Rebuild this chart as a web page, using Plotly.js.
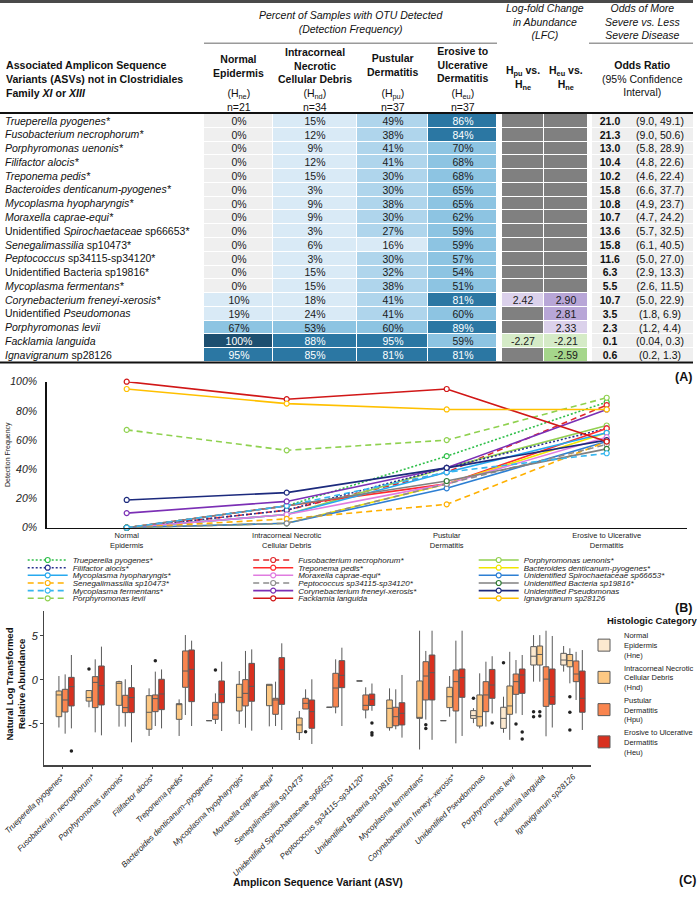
<!DOCTYPE html>
<html>
<head>
<meta charset="utf-8">
<script src="https://cdn.plot.ly/plotly-3.0.1.min.js"></script>
<style>
  html, body { margin: 0; padding: 0; background: #fff; }
  #chart { width: 697px; height: 899px; }
</style>
</head>
<body>
<div id="chart"></div>
<script>
// ---------------- data ----------------
const asvNames = [
  'Trueperella pyogenes*', 'Fusobacterium necrophorum*', 'Porphyromonas uenonis*', 'Filifactor alocis*',
  'Treponema pedis*', 'Bacteroides denticanum-pyogenes*', 'Mycoplasma hyopharyngis*', 'Moraxella caprae-equi*',
  'Unidentified Spirochaetaceae sp66653*', 'Senegalimassilia sp10473*', 'Peptococcus sp34115-sp34120*',
  'Unidentified Bacteria sp19816*', 'Mycoplasma fermentans*', 'Corynebacterium freneyi-xerosis*',
  'Unidentified Pseudomonas', 'Porphyromonas levii', 'Facklamia languida', 'Ignavigranum sp28126'
];
const tableLabels = [
  '<i>Trueperella pyogenes*</i>', '<i>Fusobacterium necrophorum*</i>', '<i>Porphyromonas uenonis*</i>',
  '<i>Filifactor alocis*</i>', '<i>Treponema pedis*</i>', '<i>Bacteroides denticanum-pyogenes*</i>',
  '<i>Mycoplasma hyopharyngis*</i>', '<i>Moraxella caprae-equi*</i>', 'Unidentified <i>Spirochaetaceae</i> sp66653*',
  '<i>Senegalimassilia</i> sp10473*', '<i>Peptococcus</i> sp34115-sp34120*', 'Unidentified Bacteria sp19816*',
  '<i>Mycoplasma fermentans*</i>', '<i>Corynebacterium freneyi-xerosis*</i>', 'Unidentified <i>Pseudomonas</i>',
  '<i>Porphyromonas levii</i>', '<i>Facklamia languida</i>', '<i>Ignavigranum</i> sp28126'
];
// detection frequency (%) per histologic category
const freqNe = [0, 0, 0, 0, 0, 0, 0, 0, 0, 0, 0, 0, 0, 10, 19, 67, 100, 95];
const freqNd = [15, 12, 9, 12, 15, 3, 9, 9, 3, 6, 3, 15, 15, 18, 24, 53, 88, 85];
const freqPu = [49, 38, 41, 41, 30, 30, 38, 30, 27, 16, 30, 32, 38, 41, 41, 60, 95, 81];
const freqEu = [86, 84, 70, 68, 68, 65, 65, 62, 59, 59, 57, 54, 51, 81, 60, 89, 59, 81];
// log-fold change vs. normal epidermis (null = not significant)
const lfcPu = [null, null, null, null, null, null, null, null, null, null, null, null, null, 2.42, null, null, -2.27, null];
const lfcEu = [null, null, null, null, null, null, null, null, null, null, null, null, null, 2.90, 2.81, 2.33, -2.21, -2.59];
// odds ratios with 95% confidence intervals
const oddsRatio = [21.0, 21.3, 13.0, 10.4, 10.2, 15.8, 10.8, 10.7, 13.6, 15.8, 11.6, 6.3, 5.5, 10.7, 3.5, 2.3, 0.1, 0.6];
const ciLabels = ['(9.0, 49.1)', '(9.0, 50.6)', '(5.8, 28.9)', '(4.8, 22.6)', '(4.6, 22.4)', '(6.6, 37.7)',
  '(4.9, 23.7)', '(4.7, 24.2)', '(5.7, 32.5)', '(6.1, 40.5)', '(5.0, 27.0)', '(2.9, 13.3)', '(2.6, 11.5)',
  '(5.0, 22.9)', '(1.8, 6.9)', '(1.2, 4.4)', '(0.04, 0.3)', '(0.2, 1.3)'];

const stageLabels = ['Normal<br>Epidermis', 'Intracorneal Necrotic<br>Cellular Debris', 'Pustular<br>Dermatitis', 'Erosive to Ulcerative<br>Dermatitis'];

// boxplot categories (panel C order)
const boxCats = [
  'Trueperella pyogenes*', 'Fusobacterium necrophorum*', 'Porphyromonas uenonis*', 'Filifactor alocis*',
  'Treponema pedis*', 'Bacteroides denticanum–pyogenes*', 'Mycoplasma hyopharyngis*', 'Moraxella caprae–equi*',
  'Senegalimassilia sp10473*', 'Unidentified Spirochaetaceae sp66653*', 'Peptococcus sp34115–sp34120*',
  'Unidentified Bacteria sp19816*', 'Mycoplasma fermentans*', 'Corynebacterium freneyi–xerosis*',
  'Unidentified Pseudomonas', 'Porphyromonas levii', 'Facklamia languida', 'Ignavigranum sp28126'
];
const N = null;
// natural-log relative abundance: whisker low, Q1, median, Q3, whisker high
const neLo  = [N, N, N, N, N, N, N, N, N, N, N, N, N, -4.62, -4.9, -6.0, -0.19, 0.95];
const neQ1  = [N, N, N, N, N, N, N, N, N, N, N, N, N, -4.62, -4.36, -5.5, 1.7, 1.7];
const neMed = [N, N, N, N, N, N, N, N, N, N, N, N, N, -4.62, -4.05, -4.36, 2.7, 2.27];
const neQ3  = [N, N, N, N, N, N, N, N, N, N, N, N, N, -4.62, -3.48, -3.1, 3.79, 3.03];
const neHi  = [N, N, N, N, N, N, N, N, N, N, N, N, N, -4.62, -3.2, -1.9, 5.1, 3.86];

const ndLo  = [-5.4, -3.1, -5.3, -6.36, -6.36, -4.62, -5.0, -5.27, -6.82, -3.1, -0.11, -5.76, -7.9, -4.17, -5.5, -6.8, -0.19, -0.38];
const ndQ1  = [-4.17, -2.4, -2.88, -5.6, -4.47, -4.62, -3.52, -2.92, -5.98, -3.1, -0.11, -5.42, -4.36, -3.14, -5.23, -3.9, 1.7, 1.5];
const ndMed = [-1.7, -2.0, -0.38, -3.67, -2.77, -4.62, -1.97, -0.57, -5.11, -3.1, -0.11, -3.22, -4.3, -1.9, -4.17, -2.95, 2.9, 2.2];
const ndQ3  = [-1.25, -1.2, -0.19, -1.78, -2.69, -4.62, -0.49, -0.49, -4.32, -3.1, -0.11, -2.27, -0.11, -0.83, -1.7, -0.68, 3.86, 2.9];
const ndHi  = [0.45, -1.2, -0.08, -0.95, -2.2, -4.62, 1.02, -0.49, -3.52, -3.1, -0.11, -0.95, 5.6, 0.45, 0.76, 3.2, 5.1, 3.6];

const puLo  = [-6.1, -5.95, -5.3, -5.23, -3.98, -5.0, -5.42, -5.23, -3.3, -3.79, -4.36, -5.6, -4.5, -7.2, -5.3, -3.8, -6.4, -2.27];
const puQ1  = [-3.64, -3.14, -3.71, -3.6, -0.83, -4.47, -2.95, -3.9, -3.3, -3.07, -3.41, -5.2, -2.27, -3.52, -3.6, -1.63, -3.0, -0.19];
const puMed = [-2.27, -0.27, -3.14, -2.12, 1.02, -3.98, -1.52, -2.27, -2.65, -0.91, -2.88, -4.17, 0.45, -0.19, -1.7, -0.19, 0.1, 0.68];
const puQ3  = [-1.06, 0.38, -1.74, -1.7, 3.3, -2.54, 0.04, -2.08, -2.08, 0.76, -1.7, -3.1, 2.08, 1.14, -0.19, 0.68, 1.5, 2.16];
const puHi  = [0.64, 2.35, 0.08, 0.95, 5.11, -1.52, 3.3, -0.19, -1.06, 2.35, -0.83, -1.06, 3.3, 4.47, 2.08, 2.27, 5.6, 3.2];

const euLo  = [-5.5, -6.29, -7.08, -5.5, -5.23, -5.8, -5.76, -5.68, -7.27, -5.23, -3.5, -6.55, -6.8, -6.36, -3.8, -3.98, -5.4, -5.68];
const euQ1  = [-2.95, -2.84, -3.71, -3.37, -2.46, -2.58, -2.42, -2.77, -5.49, -0.87, -2.9, -5.11, -2.27, -1.97, -2.08, -1.52, -2.77, -3.67];
const euMed = [-0.76, -0.64, -2.0, -1.59, 1.21, -1.63, -0.72, 1.17, -3.6, 0.53, -2.2, -3.79, 0.83, 0.27, -0.57, 0.57, -1.9, -2.08];
const euQ3  = [0.3, 1.59, -0.87, 0.08, 3.41, -0.11, 1.89, 2.54, -2.27, 2.2, -1.6, -2.58, 2.84, 1.25, 1.2, 1.25, 1.25, 1.02];
const euHi  = [2.84, 3.79, 1.7, 1.2, 4.47, 2.08, 3.48, 4.17, 0.08, 3.67, -0.4, 0.57, 5.6, 5.6, 2.7, 2.84, 5.0, 3.4];

// outlying samples (category index, value)
const outNeCat = [14, 15, 16, 16];            const outNeVal = [-2.08, 1.97, -3.6, -4.17];
const outNdCat = [1, 16, 16, 17, 17, 17];     const outNdVal = [1.25, -3.6, -4.1, -1.9, -3.67, -5.68];
const outPuCat = [3, 5, 8, 12, 12, 15];       const outPuVal = [2.2, 1.14, -5.87, -5.1, -5.5, -5.0];
const outEuCat = [0, 10, 10, 10, 14, 15, 15]; const outEuVal = [-8.07, -4.9, -6.0, -6.25, -4.9, -5.9, -6.7];

// ---------------- styling / layout constants ----------------
const W = 697, H = 899;
const FONT = "'Liberation Sans', Arial, Helvetica, sans-serif";
const px = v => v / W;
const py = v => 1 - v / H;

const lineColors = ['#2fbf4a', '#e0262a', '#92d050', '#27318f', '#ff2b2b', '#f2e600', '#27a9ef', '#e07ce0', '#2d7fd3',
  '#ffb000', '#8c8c8c', '#808080', '#36b6f0', '#7b2fb5', '#1c2a7d', '#8fd14f', '#d11717', '#ffc000'];
const lineDash = ['dot', 'dash', 'solid', 'dot', 'solid', 'solid', 'solid', 'solid', 'solid',
  'dash', 'dash', 'solid', 'dash', 'solid', 'solid', 'dash', 'solid', 'solid'];
const dashCss = { solid: 'solid', dot: '2px,2px', dash: '6px,4px' };
const markerEdge = lineColors.map((c, i) => i === 11 ? '#2e7d32' : c);

const boxFill = ['#fde9cf', '#fdc883', '#f9854f', '#d8301f'];

// table geometry (pixels)
const freqEdges = [204, 273, 357, 428, 497];
const lfcEdges = [502, 544, 588];
const orEdges = [592, 627];
const ciEdges = [627, 693];
const tableTop = 114, tableBottom = 362;
const rowIdx = asvNames.map((_, i) => i);

// ---------------- traces ----------------
const traces = [];

// panel A: table cells
const freqScale = [
  [0, '#efefef'], [0.005, '#efefef'], [0.005, '#d9eaf6'], [0.25, '#d9eaf6'],
  [0.25, '#afd5ec'], [0.5, '#afd5ec'], [0.5, '#8dc4e2'], [0.8, '#8dc4e2'],
  [0.8, '#2b77a3'], [0.99, '#2b77a3'], [0.99, '#1d4f70'], [1, '#1d4f70']
];
const freqZ = rowIdx.map(i => [freqNe[i], freqNd[i], freqPu[i], freqEu[i]]);
const freqText = freqZ.map(r => r.map(v => v >= 80 ? '<span style="color:#ffffff">' + v + '%</span>' : v + '%'));
traces.push({
  type: 'heatmap', x: freqEdges, y: rowIdx, z: freqZ, text: freqText, texttemplate: '%{text}',
  textfont: { family: FONT, size: 10.5, color: '#1a1a1a' }, colorscale: freqScale, zmin: 0, zmax: 100,
  showscale: false, xgap: 1, ygap: 1, hoverinfo: 'skip', xaxis: 'x3', yaxis: 'y3'
});
// LFC: grey where not significant, purple/green scale otherwise
traces.push({
  type: 'heatmap', x: lfcEdges, y: rowIdx, z: rowIdx.map(() => [1, 1]),
  colorscale: [[0, '#808080'], [1, '#808080']], showscale: false, xgap: 1, ygap: 1,
  hoverinfo: 'skip', xaxis: 'x3', yaxis: 'y3'
});
const lfcZ = rowIdx.map(i => [lfcPu[i], lfcEu[i]]);
traces.push({
  type: 'heatmap', x: lfcEdges, y: rowIdx, z: lfcZ,
  text: lfcZ.map(r => r.map(v => v == null ? '' : v.toFixed(2))), texttemplate: '%{text}',
  textfont: { family: FONT, size: 10.5, color: '#1a1a1a' },
  colorscale: [[0, '#a5d68b'], [0.0833, '#a5d68b'], [0.0833, '#d5ebc7'], [0.5, '#d5ebc7'],
    [0.5, '#dbd1eb'], [0.9167, '#dbd1eb'], [0.9167, '#b8a6d7'], [1, '#b8a6d7']],
  zmin: -3, zmax: 3, showscale: false, xgap: 1, ygap: 1, hoverinfo: 'skip', xaxis: 'x3', yaxis: 'y3'
});
// odds ratio + CI
traces.push({
  type: 'heatmap', x: orEdges, y: rowIdx, z: rowIdx.map(() => [1]),
  text: oddsRatio.map(v => [v.toFixed(1)]), texttemplate: '<b>%{text}</b>',
  textfont: { family: FONT, size: 10.5, color: '#111' },
  colorscale: [[0, '#efefef'], [1, '#efefef']], showscale: false, xgap: 0, ygap: 1,
  hoverinfo: 'skip', xaxis: 'x3', yaxis: 'y3'
});
traces.push({
  type: 'heatmap', x: ciEdges, y: rowIdx, z: rowIdx.map(() => [1]),
  text: ciLabels.map(v => [v]), texttemplate: '%{text}',
  textfont: { family: FONT, size: 10.5, color: '#111' },
  colorscale: [[0, '#efefef'], [1, '#efefef']], showscale: false, xgap: 0, ygap: 1,
  hoverinfo: 'skip', xaxis: 'x3', yaxis: 'y3'
});

// panel B: detection frequency lines
rowIdx.forEach(i => {
  const row = Math.floor(i / 3);
  traces.push({
    type: 'scatter', mode: 'lines+markers', name: asvNames[i],
    x: stageLabels, y: [freqNe[i], freqNd[i], freqPu[i], freqEu[i]],
    line: { color: lineColors[i], width: 1.6, dash: dashCss[lineDash[i]] },
    marker: { symbol: 'circle', size: 5, color: '#ffffff', line: { color: markerEdge[i], width: 1.2 } },
    legend: row === 0 ? 'legend' : 'legend' + (row + 1),
    xaxis: 'x2', yaxis: 'y2', cliponaxis: false, offsetgroup: 'freq', hoverinfo: 'skip'
  });
});

// panel C: outliers (grouped in the same slots as the boxes)
const outSets = [[outNeCat, outNeVal, 'ne'], [outNdCat, outNdVal, 'nd'], [outPuCat, outPuVal, 'pu'], [outEuCat, outEuVal, 'eu']];
outSets.forEach(([cats, vals, g]) => {
  traces.push({
    type: 'scatter', mode: 'markers', x: cats.map(c => boxCats[c]), y: vals,
    marker: { color: '#222', size: 3.5 }, offsetgroup: g, showlegend: false,
    xaxis: 'x4', yaxis: 'y4', cliponaxis: false, hoverinfo: 'skip'
  });
});

// panel C: boxes
const boxSets = [
  ['Normal<br>Epidermis<br>(Hne)', neLo, neQ1, neMed, neQ3, neHi, 'ne'],
  ['Intracorneal Necrotic<br>Cellular Debris<br>(Hnd)', ndLo, ndQ1, ndMed, ndQ3, ndHi, 'nd'],
  ['Pustular<br>Dermatitis<br>(Hpu)', puLo, puQ1, puMed, puQ3, puHi, 'pu'],
  ['Erosive to Ulcerative<br>Dermatitis<br>(Heu)', euLo, euQ1, euMed, euQ3, euHi, 'eu']
];
boxSets.forEach(([name, lo, q1, med, q3, hi, g], k) => {
  const keep = boxCats.map((_, i) => i).filter(i => q1[i] != null);
  traces.push({
    type: 'box', name: name, x: keep.map(i => boxCats[i]),
    lowerfence: keep.map(i => lo[i]), q1: keep.map(i => q1[i]), median: keep.map(i => med[i]),
    q3: keep.map(i => q3[i]), upperfence: keep.map(i => hi[i]),
    fillcolor: boxFill[k], line: { color: '#5a5a5a', width: 1 }, whiskerwidth: 0, boxpoints: false,
    offsetgroup: g, legend: 'legend7', xaxis: 'x4', yaxis: 'y4', hoverinfo: 'skip'
  });
});

// ---------------- layout ----------------
const legendRowY = [560, 567.7, 575.3, 583, 590.6, 598.3];
function rowLegend(r) {
  return {
    orientation: 'h', x: px(22.7), xanchor: 'left', y: py(legendRowY[r]), yanchor: 'middle',
    entrywidth: 170.5, entrywidthmode: 'pixels', itemwidth: 40,
    font: { family: FONT, size: 8, style: 'italic', color: '#222' },
    bgcolor: 'rgba(0,0,0,0)', borderwidth: 0, itemclick: false, itemdoubleclick: false
  };
}

const annotations = [];
function ann(text, xPx, yPx, extra) {
  annotations.push(Object.assign({
    text: text, x: px(xPx), y: py(yPx), xref: 'paper', yref: 'paper', showarrow: false,
    xanchor: 'center', yanchor: 'middle', align: 'center',
    font: { family: FONT, size: 10.5, color: '#111' }
  }, extra || {}));
}
const mid = (a, b) => (a + b) / 2;

// table header
ann('<b>Associated Amplicon Sequence<br>Variants (ASVs) not in Clostridiales<br>Family <i>XI</i> or <i>XIII</i></b>', 4, 78.5,
  { xanchor: 'left', align: 'left', font: { family: FONT, size: 10.6, color: '#111' } });
ann('<i>Percent of Samples with OTU Detected<br>(Detection Frequency)</i>', mid(freqEdges[0], freqEdges[4]), 22.2);
ann('<i>Log-fold Change<br>in Abundance<br>(LFC)</i>', mid(lfcEdges[0], lfcEdges[2]), 21.7);
ann('<i>Odds of More<br>Severe vs. Less<br>Severe Disease</i>', mid(orEdges[0], ciEdges[1]), 21.7);
const colHeads = ['<b>Normal<br>Epidermis</b>', '<b>Intracorneal<br>Necrotic<br>Cellular Debris</b>', '<b>Pustular<br>Dermatitis</b>', '<b>Erosive to<br>Ulcerative<br>Dermatitis</b>'];
const colHeadY = [66, 65.5, 65, 65];
const colSub = ['(H<sub>ne</sub>)<br>n=21', '(H<sub>nd</sub>)<br>n=34', '(H<sub>pu</sub>)<br>n=37', '(H<sub>eu</sub>)<br>n=37'];
colHeads.forEach((t, j) => {
  const cx = mid(freqEdges[j], freqEdges[j + 1]);
  ann(t, cx, colHeadY[j]);
  ann(colSub[j], cx, 99.5);
});
ann('<b>H<sub>pu</sub> vs.<br>H<sub>ne</sub></b>', mid(lfcEdges[0], lfcEdges[1]), 78);
ann('<b>H<sub>eu</sub> vs.<br>H<sub>ne</sub></b>', mid(lfcEdges[1], lfcEdges[2]), 78);
ann('<b>Odds Ratio</b><br>(95% Confidence<br>Interval)', mid(orEdges[0], ciEdges[1]), 78.5);

// panel labels and titles
const panelFont = { family: FONT, size: 12.5, color: '#111' };
ann('<b>(A)</b>', 683, 377, { font: panelFont });
ann('<b>(B)</b>', 683, 608, { font: panelFont });
ann('<b>(C)</b>', 687, 880, { font: panelFont });
ann('Detection Frequency', 8, 455, { textangle: -90, font: { family: FONT, size: 7, color: '#222' } });
ann('<b>Natural Log Transformed<br>Relative Abundance</b>', 14.5, 684, { textangle: -90, font: { family: FONT, size: 9.5, color: '#111' } });
ann('<b>Amplicon Sequence Variant (ASV)</b>', 318, 882, { font: { family: FONT, size: 10.5, color: '#111' } });
ann('<b>Histologic Category</b>', 605, 620, { xanchor: 'left', font: { family: FONT, size: 9.5, color: '#111' } });

function hline(x0, x1, y, width, color) {
  return { type: 'line', xref: 'paper', yref: 'paper', x0: px(x0), x1: px(x1), y0: py(y), y1: py(y), line: { color: color, width: width } };
}
const shapes = [
  hline(0, 693, 1.5, 3, '#4a4a4a'),
  hline(freqEdges[0], freqEdges[4], 43.3, 1.5, '#9a9a9a'),
  hline(orEdges[0] - 3, ciEdges[1], 43.3, 1.5, '#9a9a9a'),
  hline(0, 693, 113, 2, '#111'),
  hline(0, 693, 362.5, 2, '#111')
];

const layout = {
  width: W, height: H, margin: { l: 0, r: 0, t: 0, b: 0, pad: 0, autoexpand: false },
  paper_bgcolor: '#fff', plot_bgcolor: 'rgba(0,0,0,0)',
  font: { family: FONT, color: '#111' }, showlegend: true,
  boxmode: 'group', boxgap: 0.17, boxgroupgap: 0.1, scattermode: 'group', scattergap: 0.17,
  // table
  xaxis3: { domain: [0, 1], range: [0, W], visible: false, anchor: 'y3', fixedrange: true },
  yaxis3: {
    domain: [py(tableBottom), py(tableTop)], range: [17.5, -0.5], anchor: 'x3',
    tickvals: rowIdx, ticktext: tableLabels, ticklabelposition: 'inside', ticklabelstandoff: 2,
    ticks: '', showline: false, showgrid: false, zeroline: false,
    tickfont: { family: FONT, size: 10.5, color: '#111' }, fixedrange: true
  },
  // detection frequency chart
  xaxis2: {
    domain: [px(46.7), px(686.7)], anchor: 'y2', type: 'category', range: [-0.5, 3.5],
    showline: true, linecolor: '#111', linewidth: 1.5, ticks: '', showgrid: false, zeroline: false,
    tickfont: { family: FONT, size: 7.5, color: '#222' }
  },
  yaxis2: {
    domain: [py(527.7), py(381.7)], anchor: 'x2', range: [0, 100], dtick: 20, ticksuffix: '%',
    showline: true, linecolor: '#111', linewidth: 1.5, ticks: '', showgrid: false, zeroline: false,
    ticklabelstandoff: 6, tickfont: { family: FONT, size: 10.5, style: 'italic', color: '#222' }
  },
  // boxplot
  xaxis4: {
    domain: [px(44), px(591)], anchor: 'y4', type: 'category', categoryorder: 'array', categoryarray: boxCats,
    range: [-0.6, 17.6], tickangle: -45, showline: true, linecolor: '#444', linewidth: 1.5,
    ticks: 'outside', ticklen: 2.5, tickcolor: '#444', showgrid: false, zeroline: false,
    tickfont: { family: FONT, size: 8, style: 'italic', color: '#222' }
  },
  yaxis4: {
    domain: [py(765), py(611)], anchor: 'x4', range: [-9.66, 7.84], tickvals: [-5, 0, 5], ticktext: ['-5', '0', '5'],
    showline: true, linecolor: '#444', linewidth: 1.5, ticks: 'outside', ticklen: 2.5, tickcolor: '#444',
    showgrid: false, zeroline: false, tickfont: { family: FONT, size: 11, style: 'italic', color: '#222' }
  },
  legend: rowLegend(0), legend2: rowLegend(1), legend3: rowLegend(2),
  legend4: rowLegend(3), legend5: rowLegend(4), legend6: rowLegend(5),
  legend7: {
    orientation: 'v', x: px(584), xanchor: 'left', y: py(624), yanchor: 'top',
    font: { family: FONT, size: 7.5, color: '#222' }, bgcolor: 'rgba(0,0,0,0)', borderwidth: 0,
    tracegroupgap: 0, itemclick: false, itemdoubleclick: false
  },
  annotations: annotations, shapes: shapes
};

Plotly.newPlot('chart', traces, layout, { staticPlot: true, displayModeBar: false });
</script>
</body>
</html>
